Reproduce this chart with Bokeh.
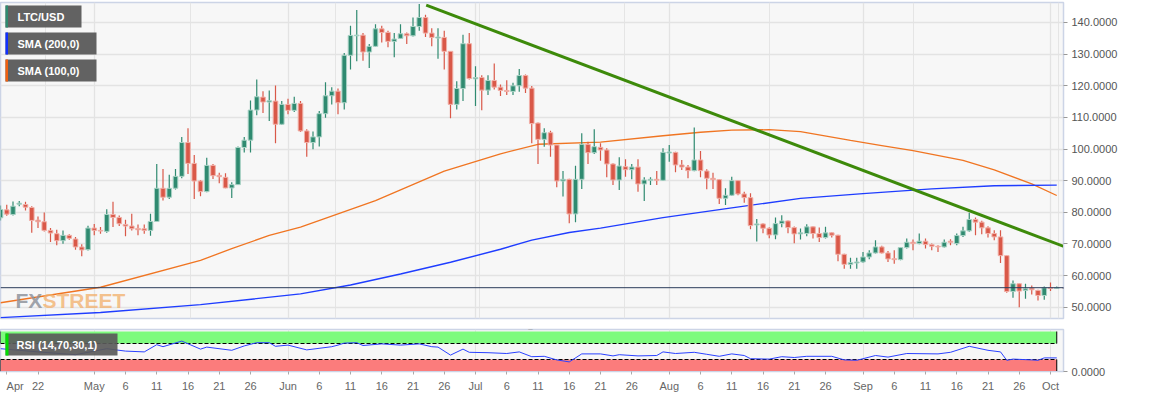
import pandas as pd
from bokeh.plotting import figure
from bokeh.layouts import column
from bokeh.models import Range1d, FixedTicker, Label, NumeralTickFormatter, Grid, Span
from bokeh.embed import file_html
from bokeh.resources import INLINE
from bokeh.core.properties import value

# ---------------- data ----------------
START = "2019-04-16"
opens = [78.26, 80.77, 79.31, 82.55, 82.45, 81.51, 77.52, 77.0, 74.27, 73.23,
         71.02, 72.7, 71.55, 69.03, 68.19, 75.01, 74.27, 73.96, 79.31, 78.36,
         76.16, 75.64, 74.9, 74.8, 74.27, 77.1, 87.59, 84.76, 87.59, 91.36,
         102.05, 95.45, 89.89, 86.54, 94.82, 91.67, 91.05, 87.69, 88.74, 100.48,
         102.79, 112.32, 116.41, 114.84, 115.15, 107.82, 114.11, 112.22, 114.42, 105.72,
         102.05, 103.83, 111.17, 116.83, 118.3, 114.63, 129.62, 135.8, 136.0, 130.67,
         132.45, 138.0, 136.85, 134.02, 134.97, 136.44, 135.8, 138.74, 141.57, 136.64,
         135.07, 135.28, 130.88, 114.11, 119.14, 133.29, 122.18, 122.6, 118.61, 121.65,
         119.56, 118.51, 118.2, 119.98, 123.23, 119.25, 108.2, 103.05, 105.16, 101.26,
         89.89, 90.42, 79.47, 90.42, 101.47, 98.84, 100.53, 99.68, 95.26, 90.21,
         94.42, 93.47, 94.31, 88.95, 90.1, 90.42, 90.1, 98.74, 98.95, 94.95,
         94.31, 93.16, 96.53, 93.05, 90.74, 90.32, 84.42, 85.37, 90.0, 85.79,
         84.63, 76.0, 76.32, 74.95, 72.84, 76.42, 77.26, 75.16, 73.17, 73.28,
         75.39, 73.28, 72.01, 73.49, 72.75, 66.72, 63.54, 63.97, 64.29, 65.87,
         67.14, 69.05, 67.14, 65.34, 65.03, 68.84, 70.53, 70.1, 70.85, 69.79,
         69.26, 69.05, 70.85, 70.1, 72.64, 74.13, 77.72, 76.88, 75.08, 73.28,
         72.22, 66.29, 54.97, 57.41, 55.29, 56.03, 55.29, 53.7, 56.14, 55.93]
closes = [80.88, 79.41, 81.93, 82.87, 81.61, 77.42, 77.0, 74.27, 73.44, 71.02,
          72.7, 71.76, 69.03, 68.09, 75.01, 74.27, 74.06, 79.31, 78.36, 76.37,
          75.64, 74.8, 74.48, 74.27, 77.1, 87.59, 84.76, 87.59, 91.36, 102.05,
          95.45, 89.89, 86.54, 94.82, 91.57, 91.25, 87.69, 88.74, 100.48, 102.79,
          112.32, 116.52, 114.84, 115.26, 107.82, 114.11, 112.22, 114.42, 105.72, 102.05,
          103.83, 111.17, 116.83, 118.3, 114.63, 129.62, 135.91, 136.0, 130.67, 132.45,
          138.0, 136.85, 134.02, 134.76, 136.44, 135.8, 138.74, 141.57, 136.64, 135.28,
          135.39, 130.88, 114.11, 119.14, 133.29, 122.28, 122.6, 118.61, 121.65, 119.56,
          118.51, 118.2, 119.98, 123.23, 119.25, 108.03, 103.05, 105.16, 101.26, 89.89,
          90.42, 79.47, 90.42, 101.47, 98.84, 100.74, 99.68, 95.26, 90.21, 94.63,
          93.47, 94.31, 88.95, 90.21, 90.42, 90.1, 98.95, 99.05, 94.95, 94.31,
          93.16, 96.53, 93.16, 90.74, 90.32, 84.42, 85.37, 90.0, 85.79, 84.63,
          75.79, 76.32, 74.95, 72.84, 76.42, 77.26, 75.16, 73.16, 73.49, 75.39,
          73.28, 72.01, 73.49, 72.75, 66.72, 63.54, 64.07, 64.29, 65.87, 67.14,
          69.05, 67.14, 65.24, 65.03, 68.84, 70.53, 70.1, 70.85, 69.79, 69.26,
          69.05, 70.53, 70.53, 72.64, 74.13, 77.72, 76.88, 75.08, 73.28, 72.22,
          66.29, 54.97, 57.41, 55.08, 55.82, 55.5, 53.7, 56.14, 55.93, 56.16]
highs = [82.14, 82.35, 83.39, 83.6, 83.29, 81.93, 78.68, 79.93, 75.01, 74.48,
         74.27, 73.02, 72.18, 69.87, 75.74, 76.27, 75.32, 80.98, 83.29, 78.99,
         77.63, 79.52, 76.16, 76.16, 79.52, 95.24, 93.67, 91.88, 93.67, 103.83,
         106.56, 98.07, 90.2, 97.23, 95.24, 92.51, 92.3, 89.47, 100.8, 103.83,
         115.36, 121.97, 118.3, 118.5, 120.08, 115.15, 115.89, 116.52, 115.15, 106.24,
         105.51, 112.01, 121.13, 119.56, 119.14, 130.35, 138.95, 143.98, 136.64, 133.18,
         139.47, 138.95, 137.38, 136.64, 139.47, 136.85, 141.57, 145.87, 142.41, 138.21,
         138.21, 137.38, 130.88, 121.44, 136.12, 136.64, 126.16, 123.33, 123.33, 127.0,
         120.4, 121.76, 120.92, 125.32, 123.54, 119.9, 108.42, 106.53, 105.79, 101.26,
         93.05, 90.6, 94.73, 104.95, 102.31, 106.21, 101.79, 100.21, 95.5, 97.37,
         96.74, 95.26, 96.74, 91.05, 91.05, 93.05, 100.21, 101.26, 99.1, 96.53,
         94.95, 106.84, 99.37, 93.58, 92.53, 90.5, 87.58, 91.26, 90.1, 86.53,
         86.0, 77.89, 76.53, 75.26, 78.32, 79.05, 77.4, 75.47, 74.87, 76.24,
         75.5, 75.18, 75.39, 73.6, 72.9, 66.9, 65.66, 65.66, 67.46, 67.99,
         71.16, 69.4, 67.78, 67.99, 69.05, 71.69, 71.37, 73.28, 71.69, 70.1,
         69.58, 71.37, 71.48, 73.28, 75.39, 79.84, 78.36, 77.3, 75.61, 74.34,
         74.34, 66.4, 58.47, 57.5, 57.41, 56.88, 55.5, 56.56, 57.83, 56.56]
lows = [77.42, 78.89, 78.99, 81.93, 80.56, 73.54, 75.01, 73.96, 70.61, 69.56,
        70.08, 71.34, 68.19, 66.1, 67.9, 72.7, 73.23, 73.54, 75.32, 75.64,
        72.39, 74.27, 72.7, 73.23, 72.6, 77.0, 83.71, 84.23, 87.2, 90.73,
        92.09, 84.23, 85.07, 86.33, 90.52, 89.16, 87.59, 84.55, 88.6, 98.91,
        98.91, 110.65, 111.38, 108.86, 101.84, 107.6, 110.96, 111.7, 105.4, 97.54,
        99.96, 100.79, 109.91, 114.11, 110.96, 112.53, 125.11, 127.73, 127.94, 125.64,
        132.24, 133.71, 132.14, 128.99, 134.76, 133.18, 135.6, 137.38, 135.39, 132.45,
        128.57, 125.11, 109.7, 112.53, 115.15, 121.97, 113.58, 112.22, 117.04, 118.83,
        116.73, 117.04, 117.04, 118.09, 117.67, 101.8, 95.26, 100.74, 97.58, 87.89,
        84.95, 76.53, 76.84, 87.37, 95.26, 98.42, 96.31, 91.05, 88.63, 87.05,
        91.26, 90.42, 86.53, 83.58, 88.63, 88.63, 89.9, 96.0, 92.63, 93.37,
        90.74, 93.0, 91.05, 87.26, 87.37, 82.63, 82.32, 85.16, 85.37, 83.05,
        74.63, 70.74, 73.37, 71.79, 71.47, 75.26, 73.37, 70.21, 71.37, 72.43,
        71.69, 70.63, 71.69, 72.01, 64.5, 62.17, 62.17, 62.17, 64.07, 65.13,
        66.93, 66.93, 64.29, 63.76, 64.81, 68.52, 67.99, 69.9, 68.52, 67.99,
        67.46, 68.84, 69.58, 69.58, 72.22, 73.81, 72.75, 73.07, 72.01, 71.16,
        63.97, 54.55, 52.96, 49.99, 52.64, 54.02, 52.12, 52.33, 55.08, 55.71]

sma100_days = [0, 16, 32, 37, 43, 48, 60, 71, 80, 86, 96, 106, 112, 117, 123, 128, 136, 141, 146, 154, 159, 165, 169]
sma100_vals = [51.4, 56.3, 64.8, 68.5, 72.7, 75.3, 83.7, 93.0, 98.5, 101.5, 102.2, 104.2, 105.3, 106.0, 106.1, 105.5, 102.7, 101.1, 99.5, 96.4, 93.4, 89.0, 85.3]
sma200_days = [0, 16, 32, 48, 56, 64, 72, 80, 85, 91, 96, 106, 117, 128, 138, 149, 159, 169]
sma200_vals = [46.7, 48.3, 50.8, 54.2, 57.0, 60.5, 64.2, 68.3, 71.2, 73.6, 75.0, 78.3, 81.4, 84.4, 85.9, 87.4, 88.4, 88.6]

trend_dates = ["2019-06-23 02:40", "2019-10-03 09:30"]
trend_vals = [145.5, 69.0]

last_price = 56.159968

rsi_days = [0, 3, 6, 12, 17, 20, 23, 25, 26, 29, 32, 33, 37, 39, 41, 43, 44, 46, 49, 53, 54, 55, 57, 58, 61,
            64, 67, 69, 70, 72, 74, 75, 78, 81, 83, 85, 87, 89, 91, 93, 96, 98, 99, 102, 105, 106, 108, 111,
            113, 115, 117, 119, 120, 123, 125, 127, 129, 133, 135, 137, 140, 142, 145, 150, 152, 155, 158,
            160, 161, 162, 165, 166, 167, 169]
rsi_vals = [57, 53, 49, 42, 57, 51, 49, 67, 62, 76, 56, 61, 53, 64, 72, 72, 63, 66, 54, 62, 66, 71, 72, 65, 69,
            66, 69, 62, 61, 41, 56, 48, 47, 45, 49, 37, 38, 29, 24, 44, 44, 39, 42, 39, 40, 49, 45, 48,
            43, 38, 44, 40, 32, 31, 37, 35, 38, 38, 29, 28, 40, 36, 45, 44, 48, 63, 53,
            49, 28, 31, 29, 28, 34, 34]

price_ticks = [50, 60, 70, 80, 90, 100, 110, 120, 130, 140]
tick_dates = ["2019-04-17", "2019-04-22",
              "2019-05-01", "2019-05-06", "2019-05-11", "2019-05-16", "2019-05-21", "2019-05-26",
              "2019-06-01", "2019-06-06", "2019-06-11", "2019-06-16", "2019-06-21", "2019-06-26",
              "2019-07-01", "2019-07-06", "2019-07-11", "2019-07-16", "2019-07-21", "2019-07-26",
              "2019-08-01", "2019-08-06", "2019-08-11", "2019-08-16", "2019-08-21", "2019-08-26",
              "2019-09-01", "2019-09-06", "2019-09-11", "2019-09-16", "2019-09-21", "2019-09-26",
              "2019-10-01"]
tick_labels = ["Apr", "22",
               "May", "6", "11", "16", "21", "26",
               "Jun", "6", "11", "16", "21", "26",
               "Jul", "6", "11", "16", "21", "26",
               "Aug", "6", "11", "16", "21", "26",
               "Sep", "6", "11", "16", "21", "26",
               "Oct"]
month_dates = ["2019-05-01", "2019-06-01", "2019-07-01", "2019-08-01", "2019-09-01", "2019-10-01"]
legend_names = ["LTC/USD", "SMA (200,0)", "SMA (100,0)"]

# ---------------- helpers ----------------
MS_DAY = 86400000.0
def ms(s):
    return pd.Timestamp(s).value / 1e6

X0 = ms(START)
PX_DAY = 6.25
def xpx(px):
    return X0 + px / PX_DAY * MS_DAY

Y_TOP, Y_BOT = 146.32, 46.42       # main frame: y pixel 2 .. 318
def ypx(py):
    return Y_TOP - (py - 2) * (Y_TOP - Y_BOT) / 316.0

R_TOP, R_BOT = 105.0, 0.0           # rsi frame: y pixel 329 .. 371
def rpx(py):
    return R_TOP - (py - 329) * (R_TOP - R_BOT) / 42.0

dates = pd.date_range(START, periods=len(opens), freq="D")
def day_dates(days):
    return [pd.Timestamp(START) + pd.Timedelta(days=d) for d in days]

GREEN, RED = "#2f8a70", "#d95848"
GREEN_L, RED_L = "#a9d2c5", "#f1b0a8"
FONT = "Liberation Sans"
FRAME_LINE = "#ccd4e6"

# ---------------- main chart ----------------
p1 = figure(width=1153, height=320, x_range=Range1d(xpx(0), xpx(1063)), y_range=Range1d(Y_BOT, Y_TOP),
            x_axis_location=None, y_axis_location="right", output_backend="svg", toolbar_location=None,
            min_border_left=0, min_border_right=90, min_border_top=2, min_border_bottom=2)
p1.background_fill_color = "#f7f7f7"
p1.border_fill_color = "white"
p1.outline_line_color = FRAME_LINE
p1.outline_line_width = 1.5
p1.ygrid.ticker = FixedTicker(ticks=price_ticks)
p1.ygrid.grid_line_color = "#e3e3e3"
p1.ygrid.grid_line_width = 1.3
p1.add_layout(Grid(dimension=0, ticker=FixedTicker(ticks=[ms(d) for d in month_dates]),
                   grid_line_color="#e3e3e3", grid_line_width=1.3))

ax = p1.yaxis[0]
ax.ticker = FixedTicker(ticks=price_ticks)
ax.formatter = NumeralTickFormatter(format="0.0000")
ax.major_label_text_font = FONT
ax.major_label_text_font_size = "11px"
ax.major_label_text_color = "#555555"
ax.axis_line_color = FRAME_LINE
ax.major_tick_line_color = "#999999"
ax.major_tick_out = 4
ax.major_tick_in = 0
ax.minor_tick_line_color = None
ax.major_label_standoff = 4

# watermark
p1.add_layout(Label(x=xpx(15), y=ypx(300), text="FX", text_font=FONT,
                    text_font_style="bold", text_font_size="21px", text_color="#8f949c", text_alpha=0.85,
                    text_baseline="alphabetic"))
p1.add_layout(Label(x=xpx(42), y=ypx(300), text="STREET", text_font=FONT,
                    text_font_style="bold", text_font_size="21px", text_color="#f2b270", text_alpha=0.8,
                    text_baseline="alphabetic"))

# SMAs
p1.line(day_dates(sma100_days), sma100_vals, line_color="#f07522", line_width=1.3)
p1.line(day_dates(sma200_days), sma200_vals, line_color="#1f3dff", line_width=1.4)

# candles
bull = [c >= o for o, c in zip(opens, closes)]
col = [GREEN if b else RED for b in bull]
col_l = [GREEN_L if b else RED_L for b in bull]
p1.segment(x0=dates, y0=lows, x1=dates, y1=highs, line_color=col, line_width=1.2)
p1.vbar(x=dates, width=0.74 * MS_DAY, top=[max(o, c) for o, c in zip(opens, closes)],
        bottom=[min(o, c) for o, c in zip(opens, closes)], fill_color=col, line_color=col_l, line_width=1)

# trend line
p1.line([pd.Timestamp(d) for d in trend_dates], trend_vals, line_color="#3d8a0a", line_width=3)

# last price
p1.add_layout(Span(location=last_price, dimension="width", line_color="#2b3c5a", line_width=1))
p1.add_layout(Label(x=xpx(1070), y=last_price, text=f"{last_price:.6f}", text_color="white",
                    text_font=FONT, text_font_style="bold", text_font_size="11px",
                    text_baseline="middle", background_fill_color="#2d4a70", padding=3))
p1.add_layout(Label(x=xpx(1061), y=last_price, text="\u25C0", text_color="#2d4a70",
                    text_font_size="8px", text_baseline="middle"))

# legend boxes
box_right = [81, 96, 96]
box_top = [5, 32, 59]
stripe_cols = ["#2f8a70", "#1030ff", "#f06010"]
p1.quad(left=[xpx(5)] * 3, right=[xpx(r) for r in box_right], top=[ypx(t) for t in box_top],
        bottom=[ypx(t + 22) for t in box_top], fill_color="#5a5a5a", fill_alpha=0.95, line_color=None)
p1.quad(left=[xpx(5)] * 3, right=[xpx(7.5)] * 3, top=[ypx(t) for t in box_top],
        bottom=[ypx(t + 22) for t in box_top], fill_color=stripe_cols, line_color=None)
p1.text(x=[xpx(17)] * 3, y=[ypx(t + 11) for t in box_top], text=legend_names, text_color="white",
        text_font=value(FONT), text_font_style="bold", text_font_size="11px", text_baseline="middle")

# ---------------- RSI panel ----------------
p2 = figure(width=1153, height=78, x_range=p1.x_range, y_range=Range1d(R_BOT, R_TOP),
            y_axis_location="right", output_backend="svg", toolbar_location=None,
            min_border_left=0, min_border_right=90, min_border_top=9, min_border_bottom=27)
p2.background_fill_color = "#f7f7f7"
p2.border_fill_color = "white"
p2.outline_line_color = FRAME_LINE
p2.outline_line_width = 1.5
p2.ygrid.visible = False
p2.xgrid.ticker = FixedTicker(ticks=[ms(d) for d in month_dates])
p2.xgrid.grid_line_color = "#e3e3e3"

xa = p2.xaxis[0]
xa.ticker = FixedTicker(ticks=[ms(d) for d in tick_dates])
overrides = {ms(d): l for d, l in zip(tick_dates, tick_labels)}
# first label padded on the left so that it sits inside the picture like the original
overrides[ms(tick_dates[0])] = "\u00a0\u00a0" + tick_labels[0]
xa.major_label_overrides = overrides
xa.major_label_text_font = FONT
xa.major_label_text_font_size = "11px"
xa.major_label_text_color = "#666666"
xa.axis_line_color = FRAME_LINE
xa.major_tick_line_color = "#aaaaaa"
xa.major_tick_out = 3
xa.major_tick_in = 0
xa.minor_tick_line_color = None
xa.major_label_standoff = 5

ya = p2.yaxis[0]
ya.ticker = FixedTicker(ticks=[0])
ya.formatter = NumeralTickFormatter(format="0.0000")
ya.major_label_text_font = FONT
ya.major_label_text_font_size = "11px"
ya.major_label_text_color = "#555555"
ya.axis_line_color = FRAME_LINE
ya.major_tick_line_color = "#999999"
ya.major_tick_out = 4
ya.major_tick_in = 0
ya.minor_tick_line_color = None
ya.major_label_standoff = 4

d0, dN = dates[0], dates[-1]
p2.quad(left=[d0], right=[dN], bottom=[70], top=[100], fill_color="#7dfb7d", line_color=None)
p2.quad(left=[d0], right=[dN], bottom=[0], top=[30], fill_color="#fb7c7c", line_color=None)
p2.segment(x0=[d0, d0], x1=[dN, dN], y0=[70, 30], y1=[70, 30], line_color="black", line_width=1, line_dash="4 2")
p2.segment(x0=[d0, dN, d0, dN], x1=[d0, dN, d0, dN], y0=[70, 70, 0, 0], y1=[100, 100, 30, 30],
           line_color="black", line_width=1)
p2.line(day_dates(rsi_days), rsi_vals, line_color="#2a40ff", line_width=1)

p2.quad(left=[xpx(5)], right=[xpx(117)], top=[rpx(333)], bottom=[rpx(355)], fill_color="#5a5a5a",
        fill_alpha=0.92, line_color=None)
p2.quad(left=[xpx(5)], right=[xpx(8)], top=[rpx(333)], bottom=[rpx(355)], fill_color="#00dd00", line_color=None)
p2.text(x=[xpx(16)], y=[rpx(344)], text=["RSI (14,70,30,1)"], text_color="white",
        text_font=value(FONT), text_font_style="bold", text_font_size="11px", text_baseline="middle")
# panel separator handle (screen units, measured from the frame's bottom-left)
p2.add_layout(Label(x=530, y=49, x_units="screen", y_units="screen", text="\u2261", text_color="#888888",
                    text_font_size="9px", text_align="center", text_baseline="top"))

layout = column(p1, p2, spacing=0)
open("out.html", "w").write(file_html(layout, INLINE))
